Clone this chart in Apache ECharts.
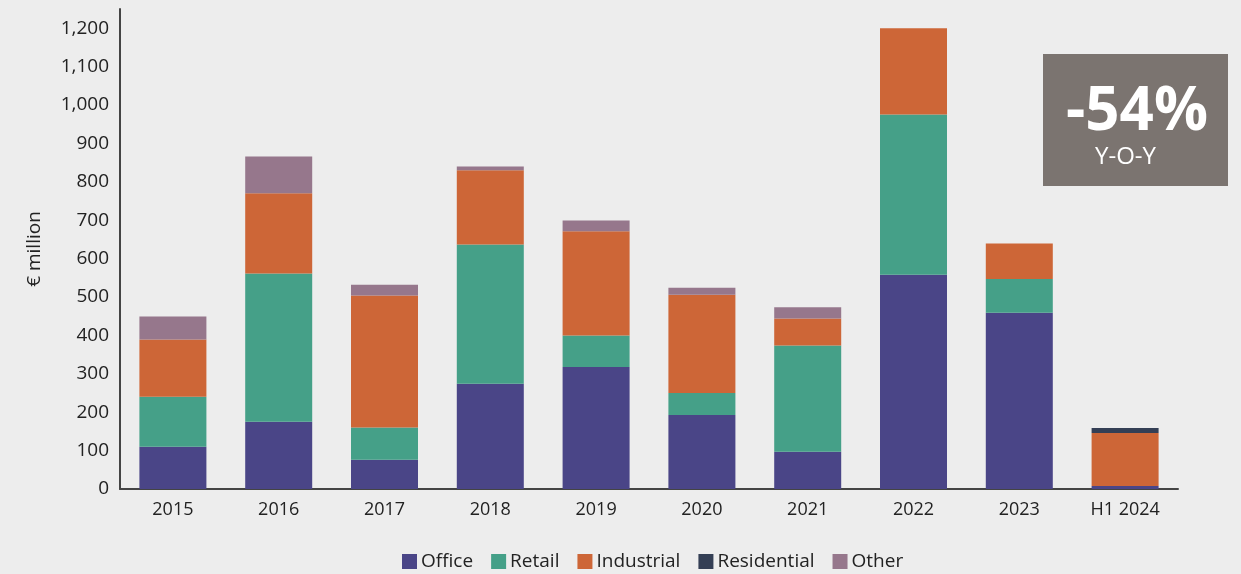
<!DOCTYPE html>
<html>
<head>
<meta charset="utf-8">
<script src="https://cdn.jsdelivr.net/npm/echarts@6/dist/echarts.min.js"></script>
<style>
html,body{margin:0;padding:0;background:#ededed;}
#chart{width:1241px;height:574px;}
</style>
</head>
<body>
<div id="chart"></div>
<script>
var categories = ['2015','2016','2017','2018','2019','2020','2021','2022','2023','H1 2024'];
var office      = [110, 175,  76, 274, 318, 193,  97, 558, 459,   8];
var retail      = [130, 386,  84, 363,  82,  57, 277, 417,  88,   0];
var industrial  = [149, 209, 344, 193, 271, 256,  70, 225,  92, 138];
var residential = [  0,   0,   0,   0,   0,   0,   0,   0,   0,  13];
var other       = [ 60,  96,  28,  10,  28,  18,  29,   0,   0,   0];
var yTicks = [0,100,200,300,400,500,600,700,800,900,1000,1100,1200];

var font = '"Open Sans", "Noto Sans", sans-serif';
var colors = {Office:'#4a4587', Retail:'#45a088', Industrial:'#cd6637', Residential:'#343f55', Other:'#96778c'};

function mk(name, data){
  return {name:name, type:'bar', stack:'total', data:data, barWidth:67,
    itemStyle:{color:colors[name]}, emphasis:{disabled:true}};
}

var chart = echarts.init(document.getElementById('chart'), null, {renderer:'canvas'});
chart.setOption({
  backgroundColor:'#ededed',
  animation:false,
  textStyle:{fontFamily:font},
  grid:{left:120, right:63, top:9, bottom:85, containLabel:false},
  legend:{
    left:397, top:547, itemWidth:15, itemHeight:15, itemGap:18, icon:'rect',
    textStyle:{fontFamily:font, fontSize:19, color:'#222', padding:[0,0,0,-1]},
    data:['Office','Retail','Industrial','Residential','Other']
  },
  xAxis:{
    type:'category', data:categories,
    axisLine:{lineStyle:{color:'#444', width:2}},
    axisTick:{show:false},
    axisLabel:{fontFamily:font, fontSize:18, color:'#222', margin:12}
  },
  yAxis:{
    type:'value', min:0, max:1250, interval:100,
    name:'€ million', nameLocation:'middle', nameGap:76, nameRotate:90,
    nameTextStyle:{fontFamily:font, fontSize:19, color:'#222'},
    axisLine:{show:true, lineStyle:{color:'#444', width:2}},
    axisTick:{show:false},
    splitLine:{show:false},
    axisLabel:{fontFamily:font, fontSize:19, color:'#222', margin:11, showMaxLabel:false,
      formatter:function(v){ return yTicks.indexOf(v) >= 0 ? v.toLocaleString('en-US') : ''; }}
  },
  graphic:[
    {type:'rect', left:1043, top:54, shape:{width:185, height:132}, style:{fill:'#7b7470'}},
    {type:'text', left:1066, top:83, style:{text:'-54%', fill:'#ffffff', font:'bold 60px "Open Sans", sans-serif'}},
    {type:'text', left:1095, top:145, style:{text:'Y-O-Y', fill:'#ffffff', font:'24px "Open Sans", sans-serif'}}
  ],
  series:[mk('Office',office), mk('Retail',retail), mk('Industrial',industrial), mk('Residential',residential), mk('Other',other)]
});
</script>
</body>
</html>
